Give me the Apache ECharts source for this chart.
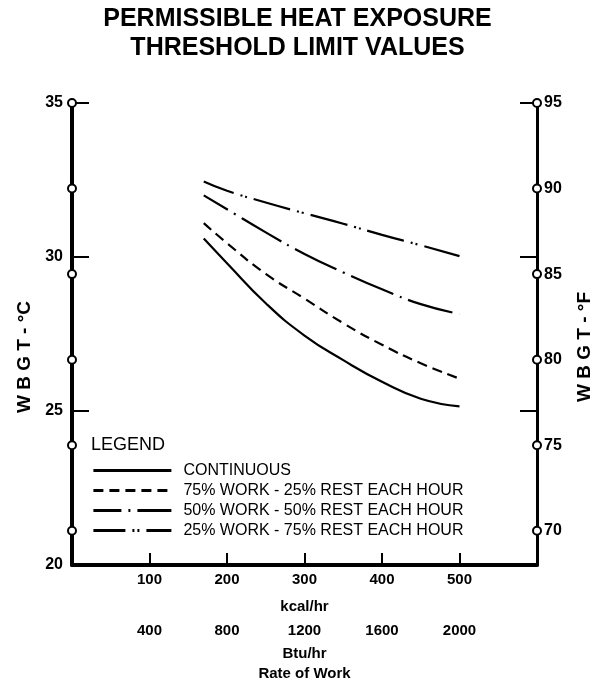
<!DOCTYPE html>
<html>
<head>
<meta charset="utf-8">
<script src="https://cdn.jsdelivr.net/npm/echarts@6/dist/echarts.min.js"></script>
<style>
  html, body { margin: 0; padding: 0; background: #fff; overflow: hidden; }
  #chart { width: 595px; height: 681px; }
</style>
</head>
<body>
<div id="chart"></div>
<script>
// ---- data ----
const kcal = [170, 200, 250, 300, 350, 400, 450, 500];
const continuous = [30.6, 29.8, 28.5, 27.45, 26.65, 25.95, 25.4, 25.15];
const work75 = [31.1, 30.45, 29.45, 28.65, 27.85, 27.15, 26.55, 26.05];
const work50 = [32.0, 31.55, 30.8, 30.1, 29.5, 28.95, 28.47, 28.15];
const work25 = [32.45, 32.15, 31.77, 31.42, 31.08, 30.72, 30.38, 30.03];

const seriesNames = [
  'CONTINUOUS',
  '75% WORK - 25% REST EACH HOUR',
  '50% WORK - 50% REST EACH HOUR',
  '25% WORK - 75% REST EACH HOUR'
];

const kcalTicks = [100, 200, 300, 400, 500];
const btuTicks = [400, 800, 1200, 1600, 2000];
const cTicks = [25, 30, 35];
const cLabels = [20, 25, 30, 35];
const fTicks = [70, 75, 80, 85, 90, 95];

const xMin = 0, xMax = 600;
const btuMax = 2400;
const cMin = 20, cMax = 35;
const fMin = 68, fMax = 95;

const FONT = '"Liberation Sans", Arial, sans-serif';

const pair = (xs, ys) => xs.map((x, i) => [x, ys[i]]);
const cToF = c => c * 9 / 5 + 32;

const chart = echarts.init(document.getElementById('chart'));

const lineSeries = (name, ys, type, offset) => ({
  name: name,
  type: 'line',
  data: pair(kcal, ys),
  smooth: true,
  symbol: 'none',
  xAxisIndex: 0,
  yAxisIndex: 0,
  lineStyle: { color: '#000', width: 2.2, type: type, dashOffset: offset },
  itemStyle: { color: '#000' },
  z: 3
});

const circleSeries = (x) => ({
  type: 'scatter',
  xAxisIndex: 0,
  yAxisIndex: 1,
  data: fTicks.map(f => [x, f]),
  symbol: 'circle',
  symbolSize: 8,
  clip: false,
  silent: true,
  itemStyle: { color: '#fff', borderColor: '#000', borderWidth: 2, opacity: 1 },
  z: 5
});

chart.setOption({
  animation: false,
  backgroundColor: '#fff',
  textStyle: { fontFamily: FONT, color: '#000' },
  title: [
    {
      text: 'PERMISSIBLE HEAT EXPOSURE\nTHRESHOLD LIMIT VALUES',
      left: 'center',
      top: 5,
      padding: [0, 0, 0, 12],
      textStyle: { fontFamily: FONT, fontWeight: 'bold', fontSize: 25, lineHeight: 29, color: '#000' }
    },
    {
      text: 'LEGEND',
      left: 91,
      top: 436,
      padding: 0,
      textStyle: { fontFamily: FONT, fontWeight: 'normal', fontSize: 18, color: '#000' }
    }
  ],
  legend: {
    data: seriesNames,
    orient: 'vertical',
    left: 92,
    top: 461,
    itemWidth: 78,
    itemHeight: 12,
    itemGap: 1,
    padding: 0,
    selectedMode: false,
    itemStyle: { color: 'rgba(0,0,0,0)', borderColor: 'rgba(0,0,0,0)', borderWidth: 0, opacity: 0 },
    lineStyle: { width: 2.8 },
    textStyle: { fontFamily: FONT, fontSize: 16, color: '#000', lineHeight: 19, padding: [0, 0, 0, 7] }
  },
  grid: { left: 72, right: 58, top: 103, bottom: 116, show: false, outerBoundsMode: 'none', containLabel: false },
  xAxis: [
    {
      type: 'value',
      min: xMin, max: xMax,
      position: 'bottom',
      axisLine: { show: true, onZero: false, lineStyle: { color: '#000', width: 4 } },
      axisTick: { show: true, inside: true, length: 12, customValues: kcalTicks, lineStyle: { color: '#000', width: 2 } },
      axisLabel: { customValues: kcalTicks, margin: 7, fontFamily: FONT, fontWeight: 'bold', fontSize: 15, color: '#000' },
      splitLine: { show: false },
      name: 'kcal/hr',
      nameLocation: 'middle',
      nameGap: 34,
      nameTextStyle: { fontFamily: FONT, fontWeight: 'bold', fontSize: 15, color: '#000' }
    },
    {
      type: 'value',
      min: xMin, max: btuMax,
      position: 'bottom',
      axisLine: { show: false },
      axisTick: { show: false },
      axisLabel: { customValues: btuTicks, formatter: v => String(v), margin: 58, fontFamily: FONT, fontWeight: 'bold', fontSize: 15, color: '#000' },
      splitLine: { show: false },
      name: 'Btu/hr\nRate of Work',
      nameLocation: 'middle',
      nameGap: 79,
      nameTextStyle: { fontFamily: FONT, fontWeight: 'bold', fontSize: 15, lineHeight: 20, color: '#000' }
    }
  ],
  yAxis: [
    {
      type: 'value',
      min: cMin, max: cMax, interval: 5,
      position: 'left',
      axisLine: { show: true, onZero: false, lineStyle: { color: '#000', width: 4 } },
      axisTick: { show: true, inside: true, length: 17, customValues: cTicks, lineStyle: { color: '#000', width: 2 } },
      axisLabel: { customValues: cLabels, margin: 9, fontFamily: FONT, fontWeight: 'bold', fontSize: 16, color: '#000' },
      splitLine: { show: false },
      name: 'W B G T - °C',
      nameLocation: 'middle',
      nameGap: 36,
      nameRotate: 90,
      nameTextStyle: { fontFamily: FONT, fontWeight: 'bold', fontSize: 19, color: '#000', padding: [0, 46, 0, 0] }
    },
    {
      type: 'value',
      min: fMin, max: fMax,
      position: 'right',
      axisLine: { show: true, onZero: false, lineStyle: { color: '#000', width: 3 } },
      axisTick: { show: true, inside: true, length: 17, customValues: cTicks.map(cToF), lineStyle: { color: '#000', width: 2 } },
      axisLabel: { customValues: fTicks, margin: 7, fontFamily: FONT, fontWeight: 'bold', fontSize: 16, color: '#000' },
      splitLine: { show: false },
      name: 'W B G T - °F',
      nameLocation: 'middle',
      nameGap: 38,
      nameRotate: 90,
      nameTextStyle: { fontFamily: FONT, fontWeight: 'bold', fontSize: 19, color: '#000', padding: [0, 26, 0, 0] }
    }
  ],
  series: [
    lineSeries(seriesNames[0], continuous, 'solid', 0),
    lineSeries(seriesNames[1], work75, [10, 6], 0),
    lineSeries(seriesNames[2], work50, [46, 7, 2, 7], 18),
    lineSeries(seriesNames[3], work25, [38, 7, 2, 3, 2, 7], 6),
    circleSeries(xMin),
    circleSeries(xMax)
  ]
});
</script>
</body>
</html>
